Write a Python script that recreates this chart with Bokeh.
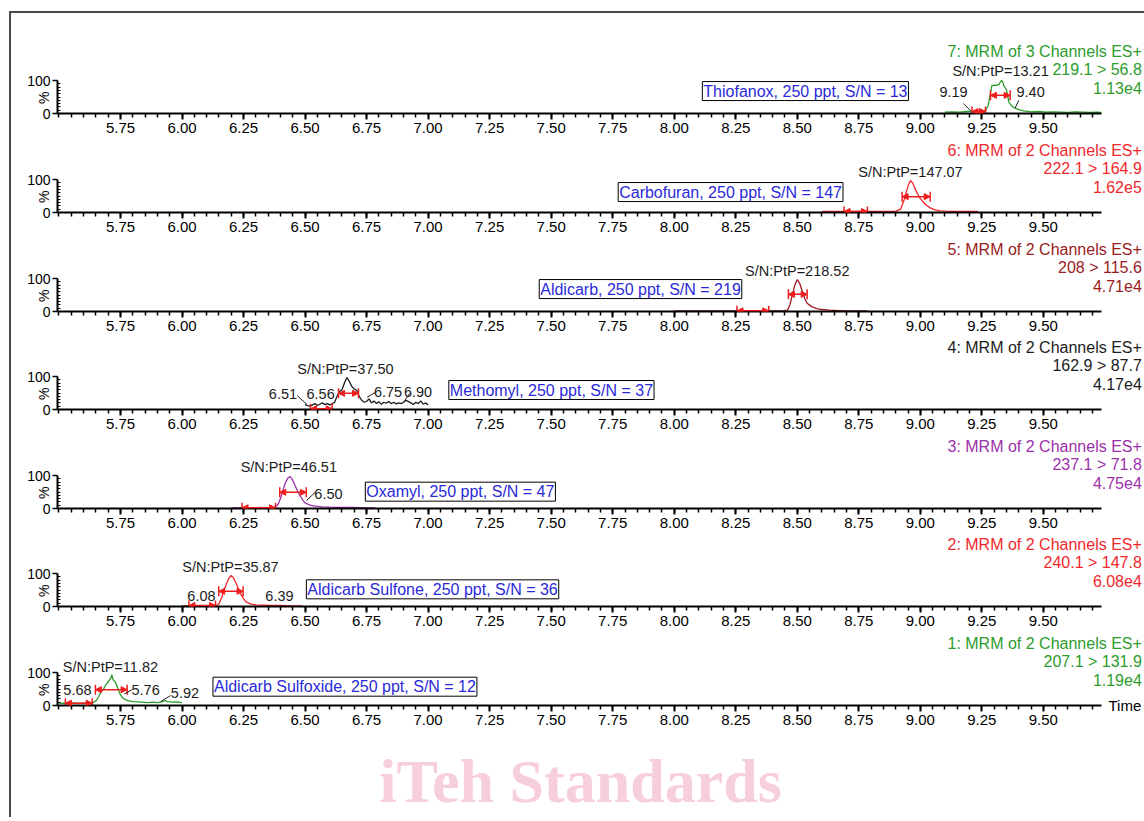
import math
import json
from bokeh.plotting import figure
from bokeh.layouts import column
from bokeh.models import (ColumnDataSource, FixedTicker, NumeralTickFormatter, Label,
                          Arrow, NormalHead, Range1d, LinearAxis, CustomJSTickFormatter)
from bokeh.core.properties import value
from bokeh.embed import file_html
from bokeh.resources import INLINE

# ---------------- data ----------------
x_major_ticks = [5.75, 6.00, 6.25, 6.50, 6.75, 7.00, 7.25, 7.50, 7.75, 8.00,
                 8.25, 8.50, 8.75, 9.00, 9.25, 9.50]
x_minor_ticks = [round(5.50 + 0.05 * i, 2) for i in range(85)]
y_ticks = [0, 100]
y_minor_ticks = [10, 20, 30, 40, 50, 60, 70, 80, 90]
y_title = "%"
y_title_level = [48]

# 7: Thiofanox
thiofanox_t = [9.10, 9.13, 9.16, 9.19, 9.21, 9.23, 9.25, 9.265, 9.275, 9.285,
               9.29, 9.30, 9.31, 9.32, 9.325, 9.33, 9.335, 9.34, 9.35, 9.36,
               9.37, 9.38, 9.39, 9.40, 9.42, 9.45, 9.48, 9.51, 9.54, 9.57,
               9.60, 9.63, 9.66, 9.69, 9.72, 9.735]
thiofanox_y = [4, 5, 4, 6, 7, 5, 8, 10, 22, 60,
               84, 86, 85, 88, 96, 100, 95, 83, 72, 34,
               24, 18, 15, 12, 8, 5, 6, 4, 5, 4,
               3, 5, 4, 3, 4, 3]
thiofanox_header = ["7: MRM of 3 Channels ES+", "219.1 > 56.8", "1.13e4"]
thiofanox_box = ("Thiofanox, 250 ppt, S/N = 13", 8.533, 68)
thiofanox_labels = [("S/N:PtP=13.21", 9.326, 130), ("9.19", 9.135, 64), ("9.40", 9.448, 64)]
thiofanox_leaders = [(9.175, 30, 9.205, 8), (9.40, 40, 9.385, 16)]
thiofanox_marks = [(9.21, 9.265, 6), (9.285, 9.365, 55)]

# 6: Carbofuran
carbofuran_t = [8.60, 8.65, 8.70, 8.75, 8.80, 8.85, 8.88, 8.90, 8.92, 8.935,
                8.95, 8.96, 8.97, 8.98, 8.99, 9.00, 9.02, 9.04, 9.06, 9.08,
                9.10, 9.13, 9.16, 9.20, 9.235]
carbofuran_y = [3, 3, 3, 3, 3, 3, 3, 4, 10, 40,
                80, 97, 88, 70, 55, 42, 25, 14, 8, 5,
                4, 3, 3, 3, 3]
carbofuran_header = ["6: MRM of 2 Channels ES+", "222.1 > 164.9", "1.62e5"]
carbofuran_box = ("Carbofuran, 250 ppt, S/N = 147", 8.229, 62)
carbofuran_labels = [("S/N:PtP=147.07", 8.96, 122)]
carbofuran_leaders = []
carbofuran_marks = [(8.69, 8.785, 3), (8.926, 9.04, 48)]

# 5: Aldicarb
aldicarb_t = [8.00, 8.10, 8.20, 8.30, 8.40, 8.44, 8.46, 8.47, 8.48, 8.49,
              8.50, 8.51, 8.52, 8.53, 8.54, 8.56, 8.58, 8.60, 8.63, 8.66,
              8.70, 8.75, 8.785]
aldicarb_y = [2, 2, 2, 2, 2, 2, 4, 20, 50, 80,
              97, 85, 62, 40, 25, 14, 9, 6, 4, 3,
              2, 2, 2]
aldicarb_header = ["5: MRM of 2 Channels ES+", "208 > 115.6", "4.71e4"]
aldicarb_box = ("Aldicarb, 250 ppt, S/N = 219", 7.863, 68)
aldicarb_labels = [("S/N:PtP=218.52", 8.50, 122)]
aldicarb_leaders = []
aldicarb_marks = [(8.255, 8.384, 2), (8.464, 8.54, 52)]

# 4: Methomyl
methomyl_t = [6.50, 6.51, 6.52, 6.53, 6.54, 6.55, 6.56, 6.57, 6.58, 6.59,
              6.60, 6.61, 6.62, 6.63, 6.64, 6.65, 6.66, 6.67, 6.68, 6.69,
              6.70, 6.71, 6.72, 6.73, 6.74, 6.75, 6.76, 6.77, 6.78, 6.79,
              6.80, 6.81, 6.82, 6.83, 6.84, 6.85, 6.86, 6.87, 6.88, 6.89,
              6.90, 6.91, 6.92, 6.93, 6.94, 6.95, 6.96, 6.97, 6.98, 6.99,
              7.00]
methomyl_y = [15, 12, 10, 14, 18, 12, 16, 20, 15, 18,
              14, 17, 22, 40, 55, 60, 80, 97, 85, 70,
              62, 58, 40, 28, 22, 25, 32, 20, 26, 18,
              24, 16, 22, 19, 24, 18, 22, 17, 20, 18,
              22, 28, 24, 20, 15, 22, 18, 26, 16, 20,
              14]
methomyl_header = ["4: MRM of 2 Channels ES+", "162.9 > 87.7", "4.17e4"]
methomyl_box = ("Methomyl, 250 ppt, S/N = 37", 7.501, 59)
methomyl_labels = [("S/N:PtP=37.50", 6.664, 123), ("6.51", 6.41, 48), ("6.56", 6.563, 48),
                   ("6.75", 6.837, 53), ("6.90", 6.959, 53)]
methomyl_leaders = [(6.468, 42, 6.508, 15), (6.752, 37, 6.786, 52), (6.901, 22, 6.925, 49)]
methomyl_marks = [(6.522, 6.61, 2), (6.636, 6.717, 49)]

# 3: Oxamyl
oxamyl_t = [6.20, 6.23, 6.26, 6.29, 6.32, 6.35, 6.37, 6.38, 6.39, 6.40,
            6.41, 6.42, 6.43, 6.44, 6.45, 6.46, 6.47, 6.48, 6.49, 6.50,
            6.52, 6.54, 6.57, 6.60, 6.65, 6.70, 6.75, 6.785]
oxamyl_y = [2, 2, 3, 2, 3, 2, 3, 5, 12, 30,
            55, 78, 92, 97, 85, 68, 52, 38, 26, 17,
            10, 7, 5, 4, 3, 3, 2, 2]
oxamyl_header = ["3: MRM of 2 Channels ES+", "237.1 > 71.8", "4.75e4"]
oxamyl_box = ("Oxamyl, 250 ppt, S/N = 47", 7.131, 51)
oxamyl_labels = [("S/N:PtP=46.51", 6.434, 125), ("6.50", 6.595, 44)]
oxamyl_leaders = [(6.506, 24, 6.542, 50)]
oxamyl_marks = [(6.244, 6.38, 2), (6.397, 6.505, 49)]

# 2: Aldicarb Sulfone
sulfone_t = [6.00, 6.03, 6.06, 6.09, 6.12, 6.14, 6.15, 6.16, 6.17, 6.18,
             6.19, 6.20, 6.21, 6.22, 6.23, 6.24, 6.25, 6.26, 6.28, 6.30,
             6.33, 6.36, 6.40, 6.44, 6.488]
sulfone_y = [2, 2, 2, 2, 2, 3, 8, 25, 48, 68,
             85, 94, 86, 70, 52, 36, 24, 14, 7, 5,
             4, 3, 3, 2, 2]
sulfone_header = ["2: MRM of 2 Channels ES+", "240.1 > 147.8", "6.08e4"]
sulfone_box = ("Aldicarb Sulfone, 250 ppt, S/N = 36", 7.018, 52)
sulfone_labels = [("S/N:PtP=35.87", 6.197, 121), ("6.08", 6.079, 33), ("6.39", 6.396, 33)]
sulfone_leaders = []
sulfone_marks = [(6.028, 6.136, 3), (6.149, 6.248, 46)]

# 1: Aldicarb Sulfoxide
sulfoxide_t = [5.50, 5.52, 5.54, 5.56, 5.58, 5.60, 5.62, 5.64, 5.65, 5.66,
               5.67, 5.68, 5.69, 5.70, 5.71, 5.715, 5.72, 5.73, 5.74, 5.75,
               5.76, 5.77, 5.78, 5.80, 5.82, 5.84, 5.86, 5.88, 5.90, 5.92,
               5.93, 5.94, 5.96, 5.98, 6.00]
sulfoxide_y = [6, 7, 6, 8, 6, 7, 8, 9, 14, 25,
               40, 48, 62, 72, 82, 93, 78, 70, 50, 32,
               22, 18, 15, 12, 11, 10, 9, 10, 9, 11,
               15, 12, 10, 11, 9]
sulfoxide_header = ["1: MRM of 2 Channels ES+", "207.1 > 131.9", "1.19e4"]
sulfoxide_box = ("Aldicarb Sulfoxide, 250 ppt, S/N = 12", 6.662, 57)
sulfoxide_labels = [("S/N:PtP=11.82", 5.709, 118), ("5.68", 5.575, 48), ("5.76", 5.852, 48),
                    ("5.92", 6.012, 37)]
sulfoxide_leaders = [(5.766, 35, 5.797, 48), (5.913, 12, 5.953, 30)]
sulfoxide_marks = [(5.526, 5.635, 7), (5.648, 5.777, 48)]

header_levels = [188, 132, 76]
axis_title = "Time"
watermark_text = "iTeh Standards"

# ---------------- style ----------------
FONT = "Liberation Sans"
GREEN = "#2c9c2c"
RED = "#f0282c"
MAROON = "#9a1c22"
BLACK = "#1c1c1c"
PURPLE = "#9b30aa"
MARK = "#ee1c1c"
BOXBLUE = "#2a2ad8"

panels = [
    (thiofanox_t, thiofanox_y, GREEN, thiofanox_header, thiofanox_box, thiofanox_labels, thiofanox_leaders, thiofanox_marks),
    (carbofuran_t, carbofuran_y, RED, carbofuran_header, carbofuran_box, carbofuran_labels, carbofuran_leaders, carbofuran_marks),
    (aldicarb_t, aldicarb_y, MAROON, aldicarb_header, aldicarb_box, aldicarb_labels, aldicarb_leaders, aldicarb_marks),
    (methomyl_t, methomyl_y, BLACK, methomyl_header, methomyl_box, methomyl_labels, methomyl_leaders, methomyl_marks),
    (oxamyl_t, oxamyl_y, PURPLE, oxamyl_header, oxamyl_box, oxamyl_labels, oxamyl_leaders, oxamyl_marks),
    (sulfone_t, sulfone_y, RED, sulfone_header, sulfone_box, sulfone_labels, sulfone_leaders, sulfone_marks),
    (sulfoxide_t, sulfoxide_y, GREEN, sulfoxide_header, sulfoxide_box, sulfoxide_labels, sulfoxide_leaders, sulfoxide_marks),
]

PX_PER_UNIT = 246.1
PX_PER_100 = 33.0
FRAME_W = 1086
X0 = 5.494
X1 = X0 + FRAME_W / PX_PER_UNIT
AXIS_END = 9.736
HX = 9.900
AXIS_H = 28
frame_heights = [100, 71, 71, 70, 71, 70, 71]
WM_H = 84

figs = []
for i, (tt, yy, color, header, box, labels, leaders, marks) in enumerate(panels):
    fh = frame_heights[i]
    last = (i == len(panels) - 1)
    yend = fh / PX_PER_100 * 100
    p = figure(frame_width=FRAME_W, frame_height=fh,
               x_range=Range1d(X0, X1), y_range=Range1d(0, yend),
               output_backend="svg", toolbar_location=None,
               min_border_left=46, min_border_right=0, min_border_top=0,
               min_border_bottom=AXIS_H,
               outline_line_color=None, background_fill_color="white",
               border_fill_color="white")
    p.grid.visible = False

    xa = p.xaxis[0]
    xa.ticker = FixedTicker(ticks=x_major_ticks, minor_ticks=x_minor_ticks)
    xa.formatter = NumeralTickFormatter(format="0.00")
    xa.bounds = (X0, AXIS_END)
    xa.axis_line_width = 2
    xa.axis_line_color = "black"
    xa.major_tick_out = 6
    xa.major_tick_in = 0
    xa.major_tick_line_width = 2
    xa.major_tick_line_color = "black"
    xa.minor_tick_out = 4
    xa.minor_tick_in = 0
    xa.minor_tick_line_width = 1.5
    xa.minor_tick_line_color = "black"
    xa.major_label_standoff = 3
    xa.major_label_text_font = FONT
    xa.major_label_text_font_size = "15px"
    xa.major_label_text_color = "black"

    ya = p.yaxis[0]
    ya.ticker = FixedTicker(ticks=y_ticks, minor_ticks=y_minor_ticks)
    ya.bounds = (0, 100)
    ya.axis_line_width = 2
    ya.axis_line_color = "black"
    ya.major_tick_out = 5
    ya.major_tick_in = 0
    ya.major_tick_line_width = 1.5
    ya.major_tick_line_color = "black"
    ya.minor_tick_out = 0
    ya.minor_tick_in = 3
    ya.minor_tick_line_width = 1
    ya.minor_tick_line_color = "black"
    ya.major_label_standoff = 2
    ya.major_label_text_font = FONT
    ya.major_label_text_font_size = "14px"
    ya.major_label_text_color = "black"

    # "%" title drawn as the single label of a second, line-less y axis
    pct = LinearAxis(ticker=FixedTicker(ticks=y_title_level),
                     formatter=CustomJSTickFormatter(code="return %s;" % json.dumps(y_title)),
                     axis_line_color=None, major_tick_line_color=None,
                     minor_tick_line_color=None, major_label_standoff=-34,
                     major_label_orientation="vertical",
                     major_label_text_font=FONT, major_label_text_font_size="14px",
                     major_label_text_color="black")
    p.add_layout(pct, "left")

    # trace
    p.line(x="t", y="y", source=ColumnDataSource(dict(t=tt, y=yy)),
           line_color=color, line_width=1.3)

    # integration markers
    msrc = ColumnDataSource(dict(t0=[m[0] for m in marks], t1=[m[1] for m in marks],
                                 y=[m[2] for m in marks]))
    p.add_layout(Arrow(x_start="t0", y_start="y", x_end="t1", y_end="y", source=msrc,
                       start=NormalHead(size=6, fill_color=MARK, line_color=MARK, line_width=1),
                       end=NormalHead(size=6, fill_color=MARK, line_color=MARK, line_width=1),
                       line_color=MARK, line_width=1.5))
    p.scatter(x="t0", y="y", source=msrc, marker="dash", angle=math.pi / 2, size=10,
              line_color=MARK, line_width=1.5)
    p.scatter(x="t1", y="y", source=msrc, marker="dash", angle=math.pi / 2, size=10,
              line_color=MARK, line_width=1.5)

    # leader lines
    if leaders:
        p.segment(x0=[l[0] for l in leaders], y0=[l[1] for l in leaders],
                  x1=[l[2] for l in leaders], y1=[l[3] for l in leaders],
                  line_color=BLACK, line_width=1)

    # S/N and retention-time labels
    lsrc = ColumnDataSource(dict(x=[l[1] for l in labels], y=[l[2] for l in labels],
                                 text=[l[0] for l in labels]))
    p.text(x="x", y="y", text="text", source=lsrc, text_font=value(FONT),
           text_font_size="14.5px", text_color=BLACK, text_align="center",
           text_baseline="middle")

    # right header
    p.text(x=[HX] * 3, y=header_levels, text=header, text_font=value(FONT),
           text_font_size="16px", text_color=color, text_align="right",
           text_baseline="middle")

    # boxed compound label
    p.add_layout(Label(x=box[1], y=box[2], text=box[0], text_align="center",
                       text_baseline="middle", text_font=FONT, text_font_size="16px",
                       text_color=BOXBLUE, border_line_color="black", border_line_width=1,
                       padding=1, background_fill_color="white"))

    if last:
        tax = LinearAxis(ticker=FixedTicker(ticks=[0]),
                         formatter=CustomJSTickFormatter(code="return %s;" % json.dumps(axis_title)),
                         axis_line_color=None, major_tick_line_color=None,
                         minor_tick_line_color=None, major_label_standoff=-41,
                         major_label_text_font=FONT, major_label_text_font_size="15px",
                         major_label_text_color="black")
        p.add_layout(tax, "right")
    figs.append(p)

# watermark strip
wm = figure(frame_width=FRAME_W, frame_height=WM_H, x_range=Range1d(X0, X1),
            y_range=Range1d(0, WM_H), x_axis_type=None, y_axis_type=None,
            output_backend="svg", toolbar_location=None,
            min_border_left=46, min_border_right=0, min_border_top=0, min_border_bottom=0,
            outline_line_color=None, background_fill_color="white",
            border_fill_color="white")
wm.grid.visible = False
wm.text(x=[7.619], y=[WM_H - 47], text=[watermark_text], text_font=value("Liberation Serif"),
        text_font_style="bold", text_font_size="62px", text_color="#f7cfdc",
        text_align="center", text_baseline="middle")
figs.append(wm)

layout = column(*figs, margin=(11, 0, 0, 9),
                styles={"border-top": "2px solid #4a4a4a",
                        "border-left": "2px solid #4a4a4a",
                        "background": "white"})

open("out.html", "w").write(file_html(layout, INLINE))
